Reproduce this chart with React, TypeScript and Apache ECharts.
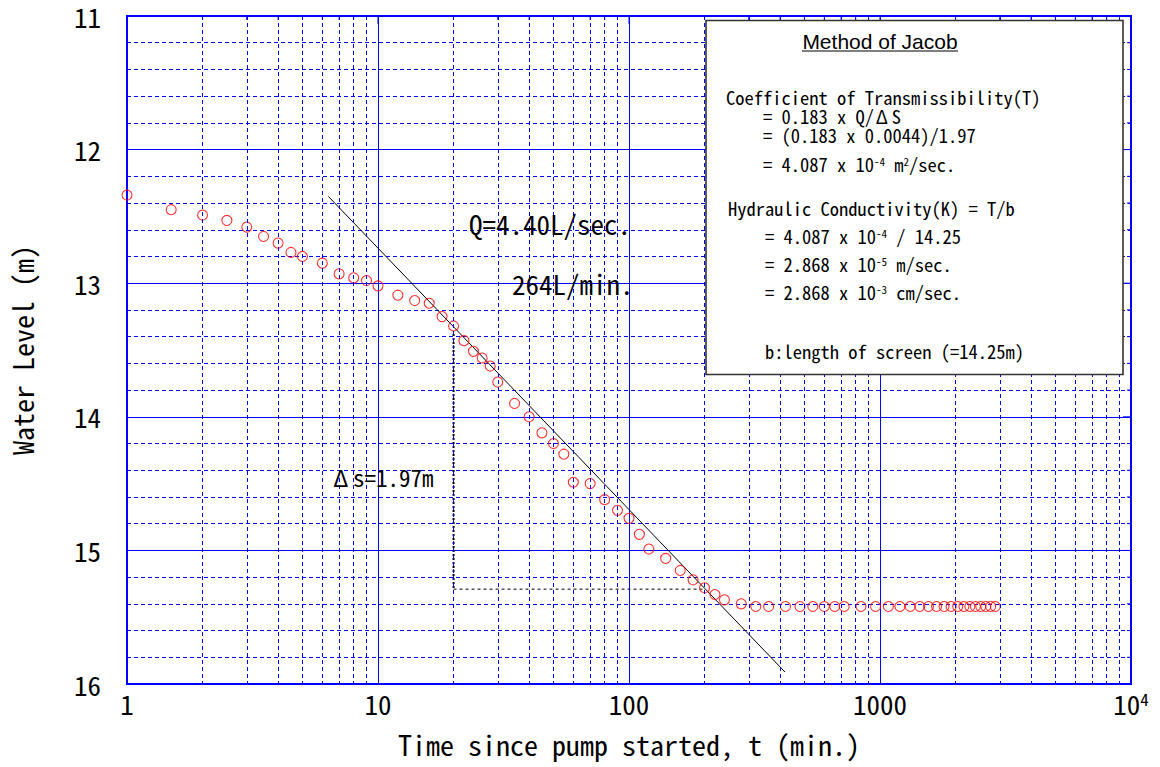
import React, { useEffect, useRef } from "react";
import * as echarts from "echarts";

// ---- data ----
const timeMin = [
  1, 1.5, 2, 2.5, 3, 3.5, 4, 4.5, 5,
  6, 7, 8, 9, 10,
  12, 14, 16, 18, 20,
  22, 24, 26, 28, 30,
  35, 40, 45, 50, 55, 60,
  70, 80, 90, 100,
  110, 120, 140, 160, 180, 200,
  220, 240, 280, 320, 360,
  420, 480, 540, 600, 660, 720,
  840, 960, 1080, 1200, 1320, 1440,
  1560, 1680, 1800, 1920, 2040, 2160,
  2280, 2400, 2520, 2640, 2760, 2880,
];
const waterLevel = [
  12.34, 12.45, 12.49, 12.53, 12.58, 12.65, 12.70, 12.77, 12.80,
  12.85, 12.93, 12.96, 12.98, 13.02,
  13.09, 13.13, 13.15, 13.25, 13.32,
  13.43, 13.51, 13.56, 13.62, 13.74,
  13.90, 14.00, 14.12, 14.20, 14.28, 14.49,
  14.50, 14.62, 14.70, 14.76,
  14.88, 14.99, 15.06, 15.15, 15.22, 15.28,
  15.33, 15.37, 15.40, 15.42, 15.42,
  15.42, 15.42, 15.42, 15.42, 15.42, 15.42,
  15.42, 15.42, 15.42, 15.42, 15.42, 15.42,
  15.42, 15.42, 15.42, 15.42, 15.42, 15.42,
  15.42, 15.42, 15.42, 15.42, 15.42, 15.42,
];
// Jacob straight-line fit (end points)
const jacobTime = [6.34, 418];
const jacobLevel = [12.35, 15.91];
// Δs construction lines
const deltaTime = [20, 20, 200];
const deltaLevel = [13.38, 15.29, 15.29];

// axis ticks
const xMajorTicks = [1, 10, 100, 1000, 10000];
const xMinorTicks = [
  2, 3, 4, 5, 6, 7, 8, 9,
  20, 30, 40, 50, 60, 70, 80, 90,
  200, 300, 400, 500, 600, 700, 800, 900,
  2000, 3000, 4000, 5000, 6000, 7000, 8000, 9000,
];
const yTickLevels = [
  11.2, 11.4, 11.6, 11.8, 12, 12.2, 12.4, 12.6, 12.8, 13,
  13.2, 13.4, 13.6, 13.8, 14, 14.2, 14.4, 14.6, 14.8, 15,
  15.2, 15.4, 15.6, 15.8,
];

const xTitle = "Time since pump started, t (min.)";
const yTitle = "Water Level (m)";
const boxTitle = "Method of Jacob";
const boxLines = [
  "Coefficient of Transmissibility(T)",
  "= 0.183 x Q/{d|Δ}S",
  "= (0.183 x 0.0044)/1.97",
  "= 4.087 x 10{sup|-4} m{sup|2}/sec.",
  "Hydraulic Conductivity(K) = T/b",
  "= 4.087 x 10{sup|-4} / 14.25",
  "= 2.868 x 10{sup|-5} m/sec.",
  "= 2.868 x 10{sup|-3} cm/sec.",
  "b:length of screen (=14.25m)",
];
const noteQ = "Q=4.40L/sec.";
const noteQmin = "264L/min.";
const noteDs = "{d|Δ}s=1.97m";

const MONO = "'Noto Sans Mono CJK JP', 'Noto Sans CJK JP', 'DejaVu Sans Mono', monospace";
const SANS = "'Liberation Sans', Arial, sans-serif";
const BLUE = "#0000ff";

export default function App() {
  const ref = useRef<HTMLDivElement>(null);

  useEffect(() => {
    document.body.style.margin = "0";
    if (!ref.current) return;
    const chart = echarts.init(ref.current, undefined, { renderer: "svg" });

    const points = timeMin.map((t, i) => [t, waterLevel[i]]);
    const jacob = jacobTime.map((t, i) => [t, jacobLevel[i]]);
    const delta = deltaTime.map((t, i) => [t, deltaLevel[i]]);

    const tickData: any[] = [
      ...xMinorTicks.map((v) => [v, 11, 0]),
      ...xMajorTicks.map((v) => [v, 11, 2]),
      ...yTickLevels.map((v) => [10000, v, Number.isInteger(v) ? 3 : 1]),
    ];

    const boxX = [726, 763, 763, 763, 728, 765, 765, 765, 765];
    const boxBase = [104, 122.7, 141.7, 170.7, 215, 242.7, 270.7, 299, 358.3];
    const FS = 18.5;

    const textEl = (text: string, x: number, baseline: number, fs: number, lh?: number) => ({
      type: "text",
      x,
      y: baseline - 0.38 * fs,
      z: 101,
      style: {
        text,
        fontFamily: MONO,
        fontSize: fs,
        lineHeight: lh,
        fill: "#000",
        align: "left",
        verticalAlign: "middle",
        textAlign: "left",
        textVerticalAlign: "middle",
        rich: {
          sup: { fontFamily: MONO, fontSize: 11, verticalAlign: "top", fill: "#000", lineHeight: lh },
          d: { fontFamily: MONO, fontSize: fs, fill: "#000", padding: [0, fs * 0.2, 0, fs * 0.1], lineHeight: lh },
        },
      },
    });

    const option: any = {
      animation: false,
      grid: {
        left: 127,
        right: 29,
        top: 16,
        bottom: 83,
        show: true,
        borderColor: BLUE,
        borderWidth: 2,
      },
      xAxis: {
        type: "log",
        logBase: 10,
        min: 1,
        max: 10000,
        axisLine: { show: false },
        axisTick: { show: false },
        splitLine: { show: true, lineStyle: { color: BLUE, width: 1 } },
        axisLabel: {
          fontFamily: MONO,
          fontSize: 27,
          color: "#000",
          margin: 6,
          formatter: (v: number) => {
            const r = Math.round(v);
            return r === 10000 ? "10{sup|4}" : String(r);
          },
          rich: { sup: { fontFamily: MONO, fontSize: 17, verticalAlign: "top", color: "#000" } },
        },
        name: xTitle,
        nameLocation: "middle",
        nameGap: 46,
        nameTextStyle: { fontFamily: MONO, fontSize: 28, color: "#000" },
      },
      yAxis: {
        type: "value",
        inverse: true,
        min: 11,
        max: 16,
        interval: 1,
        axisLine: { show: false },
        axisTick: { show: false },
        splitLine: { show: true, lineStyle: { color: BLUE, width: 1 } },
        minorTick: { show: false, splitNumber: 5 },
        minorSplitLine: { show: true, lineStyle: { color: BLUE, width: 1, type: [4, 3] } },
        axisLabel: {
          fontFamily: MONO,
          fontSize: 27,
          lineHeight: 20,
          color: "#000",
          margin: 26,
          padding: [7, 0, 0, 0],
        },
        name: yTitle,
        nameLocation: "middle",
        nameGap: 91,
        nameTextStyle: { fontFamily: MONO, fontSize: 28, color: "#000" },
      },
      series: [
        {
          name: "minor grid",
          type: "line",
          data: [[1, 11]],
          symbol: "none",
          silent: true,
          z: 1,
          lineStyle: { opacity: 0 },
          markLine: {
            silent: true,
            symbol: ["none", "none"],
            label: { show: false },
            lineStyle: { color: BLUE, width: 1, type: [4, 3] },
            data: xMinorTicks.map((v) => ({ xAxis: v })),
          },
        },
        {
          name: "frame ticks",
          type: "custom",
          data: tickData,
          silent: true,
          z: 2,
          renderItem: (params: any, api: any) => {
            const p = api.coord([api.value(0), api.value(1)]);
            const k = api.value(2);
            let shape;
            if (k === 0) shape = { x1: p[0], y1: p[1], x2: p[0], y2: p[1] + 4 };
            else if (k === 2) shape = { x1: p[0], y1: p[1], x2: p[0], y2: p[1] + 8 };
            else if (k === 1) shape = { x1: p[0], y1: p[1], x2: p[0] - 4, y2: p[1] };
            else shape = { x1: p[0], y1: p[1], x2: p[0] - 8, y2: p[1] };
            return { type: "line", shape, style: { stroke: BLUE, lineWidth: 1 } };
          },
        },
        {
          name: "Jacob line",
          type: "line",
          data: jacob,
          symbol: "none",
          z: 3,
          lineStyle: { color: "#000", width: 1 },
        },
        {
          name: "delta s vertical",
          type: "line",
          data: delta.slice(0, 2),
          symbol: "none",
          z: 3,
          lineStyle: { color: "#000", width: 2, type: [2, 2] },
        },
        {
          name: "delta s horizontal",
          type: "line",
          data: delta.slice(1, 3),
          symbol: "none",
          z: 3,
          lineStyle: { color: "#000", width: 1, type: [3, 3] },
        },
        {
          name: "Water level",
          type: "scatter",
          data: points,
          symbol: "circle",
          symbolSize: 10,
          z: 4,
          itemStyle: { color: "rgba(0,0,0,0)", borderColor: "#ff0000", borderWidth: 1.1 },
        },
      ],
      graphic: [
        textEl(noteQ, 469, 234, 27),
        textEl(noteQmin, 512, 293.3, 27),
        textEl(noteDs, 331, 486, 23),
        {
          type: "rect",
          z: 100,
          shape: { x: 706, y: 20.5, width: 417, height: 354 },
          style: { fill: "#fff", stroke: "#333", lineWidth: 1.6 },
        },
        {
          type: "text",
          x: 880,
          y: 41.7,
          z: 101,
          style: {
            text: boxTitle,
            fontFamily: SANS,
            fontSize: 21,
            fill: "#000",
            align: "center",
            verticalAlign: "middle",
            textAlign: "center",
            textVerticalAlign: "middle",
          },
        },
        {
          type: "line",
          z: 101,
          shape: { x1: 802, y1: 51, x2: 958, y2: 51 },
          style: { stroke: "#000", lineWidth: 1.2 },
        },
        ...boxLines.map((t, i) => textEl(t, boxX[i], boxBase[i], FS, 16)),
      ],
    };

    chart.setOption(option);
    return () => chart.dispose();
  }, []);

  return (
    <div
      ref={ref}
      style={{ position: "absolute", left: 0, top: 0, width: 1160, height: 767, background: "#fff" }}
    />
  );
}
